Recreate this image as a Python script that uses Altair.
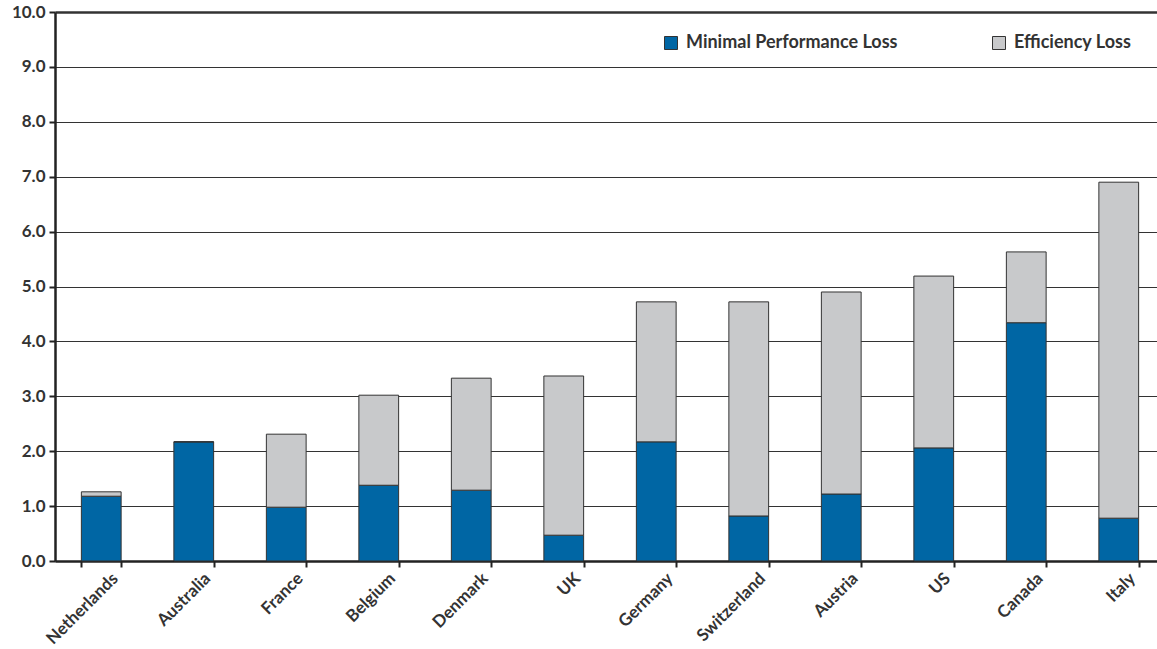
import altair as alt
import pandas as pd

countries = ["Netherlands", "Australia", "France", "Belgium", "Denmark", "UK",
             "Germany", "Switzerland", "Austria", "US", "Canada", "Italy"]
minimal_loss = [1.18, 2.17, 0.98, 1.38, 1.29, 0.47, 2.17, 0.82, 1.22, 2.06, 4.34, 0.78]
total_loss = [1.26, 2.17, 2.31, 3.02, 3.33, 3.37, 4.72, 4.72, 4.90, 5.19, 5.63, 6.90]
series = ["Minimal Performance Loss", "Efficiency Loss"]
y_ticks = [0, 1, 2, 3, 4, 5, 6, 7, 8, 9, 10]

rows = []
for c, m, t in zip(countries, minimal_loss, total_loss):
    rows.append({"country": c, "series": series[0], "value": m, "ord": 0})
    rows.append({"country": c, "series": series[1], "value": round(t - m, 2), "ord": 1})
df = pd.DataFrame(rows)

FONT = "Lato"
TXT = "#333333"

chart = alt.Chart(df).mark_bar(stroke="#333333", strokeWidth=1).encode(
    x=alt.X("country:N", sort=countries, title=None,
            scale=alt.Scale(paddingInner=0.57, paddingOuter=0.285, range=[0, 1110]),
            axis=alt.Axis(labelAngle=-45, labelAlign="right", labelBaseline="top",
                          labelFontSize=17, labelFontWeight="bold", labelColor=TXT,
                          labelFont=FONT, labelPadding=3, labelOffset=8, tickBand="extent",
                          tickSize=6, tickWidth=2, tickColor="#222222",
                          domainWidth=2.5, domainColor="#222222", grid=False)),
    y=alt.Y("value:Q", stack="zero", title=None,
            scale=alt.Scale(domain=[0, 10], nice=False),
            axis=alt.Axis(values=y_ticks, format=".1f", labelFontSize=17,
                          labelFontWeight="bold", labelColor=TXT, labelFont=FONT,
                          labelPadding=4, tickSize=6, tickWidth=2, tickColor="#222222",
                          domainWidth=2.5, domainColor="#222222",
                          grid=True, gridColor="#333333",
                          gridWidth={"condition": {"test": "datum.value == 10", "value": 2.5},
                                     "value": 1})),
    color=alt.Color("series:N", sort=series,
                    scale=alt.Scale(domain=series, range=["#0066a4", "#c8c9cb"]),
                    legend=alt.Legend(title=None, orient="none", legendX=607, legendY=22,
                                      direction="horizontal", symbolType="square",
                                      symbolSize=169, symbolStrokeColor="#333333",
                                      symbolStrokeWidth=1, labelFontSize=18,
                                      labelFontWeight="bold", labelColor=TXT,
                                      labelFont=FONT, labelOffset=6, columnPadding=92,
                                      labelLimit=300)),
    order=alt.Order("ord:Q"),
).properties(
    width=1102, height=549,
    autosize=alt.AutoSizeParams(type="none"),
    padding={"left": 55, "top": 12, "right": 0, "bottom": 88},
).configure_view(stroke=None)

chart.save("out.html", embed_options={"renderer": "svg", "actions": False})
